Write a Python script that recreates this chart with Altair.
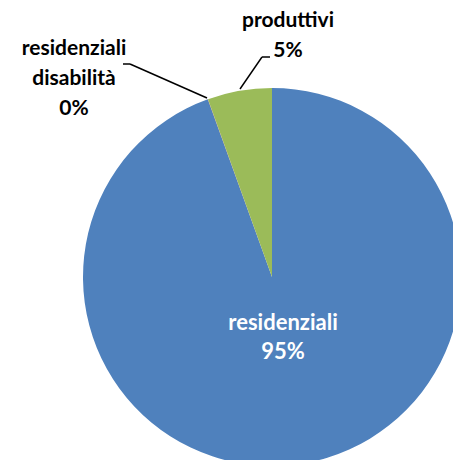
import altair as alt
import pandas as pd

categories = ["residenziali", "residenziali disabilità", "produttivi"]
values = [94.5, 0.02, 5.5]
pct_labels = ["95%", "0%", "5%"]
colors = ["#4F81BD", "#C0504D", "#9BBB59"]

df = pd.DataFrame({
    "cat": categories,
    "val": values,
    "order": list(range(len(categories))),
    "label": [c.replace(" ", "\n") + "\n" + p for c, p in zip(categories, pct_labels)],
})

FONT = "Lato"
CX, CY, R = 264, 269, 189

base = alt.Chart(df).encode(
    theta=alt.Theta("val:Q", stack=True),
    order=alt.Order("order:Q"),
)

pie = base.mark_arc(radius=R, stroke=None).encode(
    x=alt.value(CX), y=alt.value(CY),
    color=alt.Color("cat:N", scale=alt.Scale(domain=categories, range=colors), legend=None),
)

one = pd.DataFrame({"k": [0]})

def label(text, x, y, color, size, lh):
    return alt.Chart(one).mark_text(font=FONT, fontWeight="bold", fontSize=size, color=color,
                                    lineBreak="\n", lineHeight=lh, baseline="alphabetic",
                                    align="center").encode(
        x=alt.value(x), y=alt.value(y), text=alt.value(text))

lbl_res = label(df.loc[0, "label"], 275, 322, "white", 22, 28.5)
lbl_dis = label(df.loc[1, "label"], 66, 47, "black", 21, 30)
lbl_prod = label(df.loc[2, "label"], 280, 19, "black", 21, 30)

def seg(x1, y1, x2, y2):
    return alt.Chart(one).mark_rule(color="black", strokeWidth=1.5).encode(
        x=alt.value(x1), y=alt.value(y1), x2=alt.value(x2), y2=alt.value(y2))

lines = [
    seg(115, 56, 122, 56), seg(122, 56, 199, 90),
    seg(254, 49, 262, 49), seg(254, 49, 232, 81),
]

chart = alt.layer(pie, lbl_res, lbl_dis, lbl_prod, *lines).properties(
    width=445, height=452, autosize=alt.AutoSizeParams(type="none"), padding=0,
).configure_view(stroke=None)

chart.save("out.html", embed_options={"renderer": "svg", "actions": False})
